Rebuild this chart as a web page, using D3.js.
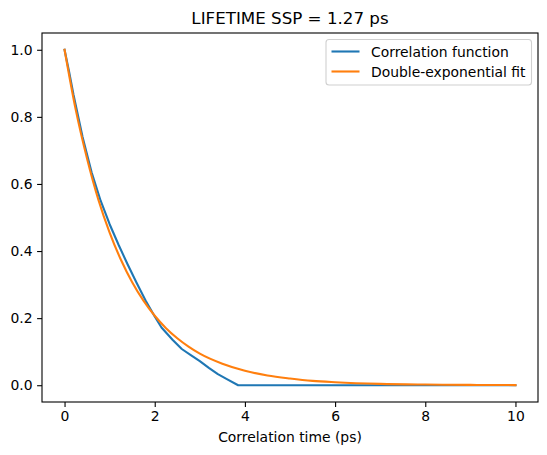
<!DOCTYPE html>
<html>
<head>
<meta charset="utf-8">
<script src="https://cdn.jsdelivr.net/npm/d3@7"></script>
<style>
  body { margin: 0; background: #fff; }
  text { font-family: "DejaVu Sans", sans-serif; fill: #000; }
</style>
</head>
<body>
<div id="a"></div>
<script>
// values
var corrTime  = [0, 0.1, 0.2, 0.4, 0.6, 0.8, 1.0, 1.2, 1.4, 1.6, 1.8, 2.0, 2.15, 2.4, 2.6, 2.8, 3.0, 3.2, 3.4, 3.6, 3.85, 5, 6, 7, 8, 9, 10],
	corrValue = [1.0, 0.935, 0.865, 0.74, 0.635, 0.55, 0.48, 0.418, 0.36, 0.305, 0.252, 0.205, 0.172, 0.135, 0.108, 0.09, 0.072, 0.052, 0.033, 0.018, 0.0, 0, 0, 0, 0, 0, 0];

var fitTime  = [0, 0.25, 0.5, 0.75, 1.0, 1.25, 1.5, 1.75, 2.0, 2.25, 2.5, 2.75, 3.0, 3.5, 4.0, 4.5, 5.0, 5.5, 6.0, 7.0, 8.0, 9.0, 10.0],
	fitValue = [1.0, 0.82, 0.675, 0.553, 0.455, 0.374, 0.307, 0.252, 0.207, 0.170, 0.140, 0.115, 0.094, 0.064, 0.043, 0.029, 0.020, 0.013, 0.009, 0.004, 0.002, 0.001, 0.0004];

var xTicks = [0, 2, 4, 6, 8, 10],
	yTicks = [0.0, 0.2, 0.4, 0.6, 0.8, 1.0],
	seriesNames = ["Correlation function", "Double-exponential fit"],
	colors = ["#1f77b4", "#ff7f0e"];

// (window.top is read-only, so the margins get their own names)
var W = 547, H = 455,
	pLeft = 42, pRight = 538, pTop = 33, pBottom = 402;

var svg = d3.select("#a").append("svg")
	.attr("width", W)
	.attr("height", H);

var x = d3.scaleLinear().domain([-0.5, 10.5]).range([pLeft, pRight]);
var y = d3.scaleLinear().domain([-0.05, 1.05]).range([pBottom, pTop]);

// lines
var line = d3.line().x(function(d){ return x(d[0]); }).y(function(d){ return y(d[1]); });
var smooth = d3.line().curve(d3.curveMonotoneX).x(function(d){ return x(d[0]); }).y(function(d){ return y(d[1]); });

var plot = svg.append("g");
plot.append("path")
	.attr("d", line(d3.zip(corrTime, corrValue)))
	.attr("fill", "none")
	.attr("stroke", colors[0])
	.attr("stroke-width", 2.1)
	.attr("stroke-linejoin", "round")
	.attr("stroke-linecap", "square");
plot.append("path")
	.attr("d", smooth(d3.zip(fitTime, fitValue)))
	.attr("fill", "none")
	.attr("stroke", colors[1])
	.attr("stroke-width", 2.1)
	.attr("stroke-linejoin", "round")
	.attr("stroke-linecap", "square");

// axes
var xAxis = d3.axisBottom(x).tickValues(xTicks).tickSize(4.9).tickPadding(4.5).tickFormat(d3.format("d"));
var yAxis = d3.axisLeft(y).tickValues(yTicks).tickSize(4.9).tickPadding(4.5).tickFormat(d3.format(".1f"));

var gx = svg.append("g").attr("transform", "translate(0," + pBottom + ")").call(xAxis);
var gy = svg.append("g").attr("transform", "translate(" + pLeft + ",0)").call(yAxis);
[gx, gy].forEach(function(g){
	g.select(".domain").remove();
	g.selectAll(".tick line").attr("stroke", "#000").attr("stroke-width", 1.1);
	g.selectAll(".tick text").style("font-size", "13.9px").attr("fill", "#000");
});

// frame
svg.append("rect")
	.attr("x", pLeft).attr("y", pTop)
	.attr("width", pRight - pLeft).attr("height", pBottom - pTop)
	.attr("fill", "none").attr("stroke", "#000").attr("stroke-width", 1.1);

// title and label
svg.append("text")
	.attr("x", (pLeft + pRight) / 2).attr("y", 24)
	.attr("text-anchor", "middle")
	.style("font-size", "16.7px")
	.text("LIFETIME SSP = 1.27 ps");

svg.append("text")
	.attr("x", (pLeft + pRight) / 2).attr("y", 442)
	.attr("text-anchor", "middle")
	.style("font-size", "13.9px")
	.text("Correlation time (ps)");

// legend
var leg = svg.append("g");
leg.append("rect")
	.attr("x", 326).attr("y", 39.5).attr("width", 205.5).attr("height", 45.5)
	.attr("rx", 3).attr("fill", "#fff").attr("fill-opacity", 0.8)
	.attr("stroke", "#d0d0d0").attr("stroke-width", 1.1);
seriesNames.forEach(function(name, i){
	var ly = 51.5 + i * 20;
	leg.append("line")
		.attr("x1", 331.5).attr("x2", 359.5).attr("y1", ly).attr("y2", ly)
		.attr("stroke", colors[i]).attr("stroke-width", 2.1);
	leg.append("text")
		.attr("x", 371).attr("y", ly + 5)
		.style("font-size", "13.9px")
		.text(name);
});
</script>
</body>
</html>
